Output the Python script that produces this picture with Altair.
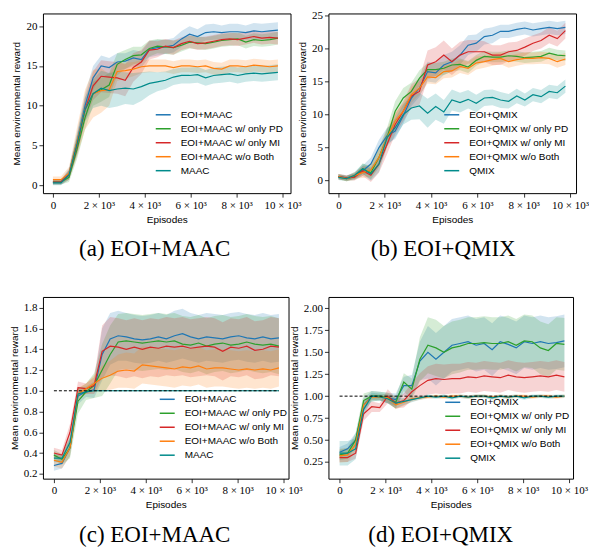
import altair as alt
import pandas as pd

EPISODES = [0, 350, 700, 1050, 1400, 1750, 2100, 2450, 2800, 3150, 3500, 3850, 4200, 4550,
            4900, 5250, 5600, 5950, 6300, 6650, 7000, 7350, 7700, 8050, 8400, 8750, 9100, 9450, 9800]

SERIES_MAAC = ["EOI+MAAC", "EOI+MAAC w/ only PD", "EOI+MAAC w/ only MI", "EOI+MAAC w/o Both", "MAAC"]
SERIES_QMIX = ["EOI+QMIX", "EOI+QMIX w/ only PD", "EOI+QMIX w/ only MI", "EOI+QMIX w/o Both", "QMIX"]
COLORS = ["#1f77b4", "#2ca02c", "#d62728", "#ff7f0e", "#008b8b"]

X_TICKS = [0, 2000, 4000, 6000, 8000, 10000]
BASELINE_LEVEL = [1.0]

# ---------------- (a) EOI+MAAC ----------------
A_EOI = [0.4, 0.4, 1.5, 5.5, 10.0, 13.5, 15.0, 14.8, 15.5, 15.6, 16.0, 15.8, 17.1, 17.3, 17.4, 17.6, 18.4, 19.0, 18.7, 19.2, 19.3, 19.2, 19.3, 19.3, 19.2, 19.4, 19.3, 19.4, 19.5]
A_PD = [0.4, 0.4, 1.0, 4.5, 8.5, 11.5, 12.0, 12.6, 15.2, 15.8, 16.3, 16.4, 17.2, 17.5, 17.4, 17.3, 17.6, 18.0, 17.9, 17.8, 18.0, 18.2, 18.3, 18.4, 18.0, 18.3, 18.2, 18.3, 18.5]
A_MI = [0.4, 0.4, 1.3, 5.0, 9.5, 12.5, 13.7, 13.6, 13.5, 13.2, 14.8, 15.5, 17.0, 17.1, 17.5, 17.3, 17.8, 18.1, 17.8, 17.9, 18.1, 18.3, 18.4, 18.3, 18.5, 18.7, 18.5, 18.6, 18.5]
A_WO = [0.7, 0.7, 1.5, 5.5, 9.5, 11.5, 11.9, 12.0, 14.3, 14.4, 14.6, 14.9, 15.0, 15.0, 15.0, 14.8, 15.0, 15.0, 14.9, 15.0, 14.7, 14.6, 15.0, 15.0, 14.9, 15.1, 15.0, 14.9, 15.0]
A_BASE = [0.3, 0.3, 1.3, 5.2, 9.5, 11.5, 12.2, 11.9, 12.1, 12.2, 12.1, 12.4, 12.8, 13.0, 13.2, 13.6, 13.8, 13.8, 13.9, 13.5, 13.8, 13.9, 14.0, 13.8, 14.0, 14.1, 14.0, 14.1, 14.2]
A_EOI_SD = [0.3, 0.3, 0.6, 1.2, 1.5, 1.5, 1.3, 1.2, 1.1, 1.0, 1.0, 1.0, 1.0, 1.0, 0.9, 0.9, 1.0, 1.0, 0.9, 1.0, 1.0, 0.9, 1.0, 1.0, 0.9, 1.0, 1.0, 1.0, 1.0]
A_PD_SD = [0.3, 0.3, 0.6, 1.2, 1.5, 1.5, 1.5, 1.5, 1.4, 1.2, 1.1, 1.0, 1.0, 0.9, 0.9, 0.9, 0.8, 0.8, 0.8, 0.8, 0.8, 0.8, 0.8, 0.8, 0.8, 0.8, 0.8, 0.8, 0.8]
A_MI_SD = [0.3, 0.3, 0.6, 1.2, 1.5, 1.8, 2.0, 2.0, 2.0, 2.0, 1.8, 1.5, 1.2, 1.0, 0.9, 0.9, 0.8, 0.8, 0.8, 0.8, 0.8, 0.8, 0.8, 0.8, 0.8, 0.8, 0.8, 0.8, 0.8]
A_WO_SD = [0.4, 0.4, 0.8, 1.8, 2.5, 3.0, 2.8, 2.0, 1.2, 1.0, 0.9, 0.8, 0.8, 0.8, 0.8, 0.8, 0.8, 0.8, 0.8, 0.8, 0.8, 0.8, 0.8, 0.8, 0.8, 0.8, 0.8, 0.8, 0.8]
A_BASE_SD = [0.3, 0.3, 0.6, 1.2, 1.5, 1.8, 2.2, 2.2, 2.2, 2.0, 2.0, 1.8, 1.5, 1.2, 1.1, 1.0, 1.0, 1.0, 1.0, 1.0, 1.0, 1.0, 1.0, 1.0, 1.0, 1.0, 1.0, 1.0, 1.0]

# ---------------- (b) EOI+QMIX ----------------
B_EOI = [0.6, 0.4, 0.7, 1.5, 2.5, 5.0, 6.8, 7.5, 9.8, 12.5, 14.0, 16.5, 16.3, 17.5, 18.0, 19.0, 20.5, 20.8, 21.8, 22.0, 22.6, 22.6, 22.9, 23.1, 22.8, 23.0, 23.2, 23.0, 23.2]
B_PD = [0.6, 0.3, 0.6, 1.8, 1.2, 3.5, 6.5, 10.5, 12.5, 13.5, 15.5, 16.8, 16.8, 17.0, 17.5, 17.6, 17.2, 18.2, 18.8, 18.7, 18.7, 18.9, 18.8, 18.6, 18.7, 18.8, 19.3, 19.0, 18.9]
B_MI = [0.6, 0.4, 0.5, 1.5, 0.8, 2.5, 5.5, 8.5, 10.5, 12.8, 13.5, 17.5, 18.0, 19.0, 18.0, 19.0, 19.5, 19.5, 19.5, 19.0, 19.0, 19.5, 19.7, 20.2, 20.8, 21.2, 22.0, 21.5, 22.7]
B_WO = [0.6, 0.3, 0.8, 1.2, 1.6, 3.5, 6.5, 9.0, 10.5, 13.0, 14.0, 15.7, 15.6, 16.5, 16.6, 17.3, 17.0, 17.8, 18.0, 18.3, 18.5, 18.0, 18.3, 18.5, 18.5, 18.6, 18.5, 18.0, 18.4]
B_BASE = [0.5, 0.3, 0.8, 1.8, 1.0, 2.5, 6.5, 8.0, 10.0, 11.0, 11.3, 10.2, 11.2, 10.4, 12.2, 11.8, 12.3, 11.7, 12.5, 12.6, 12.2, 12.0, 12.8, 12.2, 13.0, 12.7, 13.5, 13.3, 14.3]
B_EOI_SD = [0.4, 0.4, 0.5, 0.8, 1.0, 1.2, 1.2, 1.2, 1.2, 1.2, 1.3, 1.5, 1.5, 1.5, 1.5, 1.5, 1.5, 1.3, 1.2, 1.2, 1.0, 1.0, 1.0, 1.0, 1.0, 1.0, 1.0, 1.0, 1.0]
B_PD_SD = [0.4, 0.4, 0.5, 0.8, 1.0, 1.5, 1.5, 1.5, 1.5, 1.3, 1.2, 1.0, 1.0, 1.0, 1.0, 0.9, 0.9, 0.8, 0.8, 0.8, 0.8, 0.8, 0.8, 0.8, 0.8, 0.8, 0.8, 0.8, 0.8]
B_MI_SD = [0.4, 0.4, 0.5, 0.8, 1.0, 1.3, 1.5, 1.5, 1.5, 1.8, 2.0, 2.2, 2.2, 2.2, 2.0, 2.0, 1.8, 1.8, 1.6, 1.5, 1.5, 1.4, 1.3, 1.3, 1.2, 1.2, 1.2, 1.2, 1.2]
B_WO_SD = [0.4, 0.4, 0.5, 0.8, 1.0, 1.3, 1.3, 1.3, 1.2, 1.2, 1.0, 1.0, 1.0, 1.0, 1.0, 1.0, 1.0, 1.0, 0.9, 0.9, 0.9, 0.9, 0.9, 0.9, 0.9, 0.9, 0.9, 0.9, 0.9]
B_BASE_SD = [0.4, 0.4, 0.5, 0.8, 1.0, 1.2, 1.3, 1.4, 1.5, 1.8, 2.0, 2.2, 2.0, 1.8, 1.6, 1.5, 1.4, 1.3, 1.2, 1.2, 1.2, 1.1, 1.1, 1.0, 1.0, 1.0, 1.0, 1.0, 1.0]

# ---------------- (c) EOI+MAAC ----------------
C_EOI = [0.28, 0.30, 0.45, 0.95, 0.99, 1.01, 1.35, 1.50, 1.53, 1.52, 1.50, 1.49, 1.50, 1.52, 1.50, 1.53, 1.55, 1.52, 1.50, 1.52, 1.51, 1.50, 1.52, 1.53, 1.51, 1.50, 1.52, 1.50, 1.51]
C_PD = [0.38, 0.34, 0.45, 0.90, 0.99, 1.05, 1.20, 1.35, 1.47, 1.48, 1.47, 1.46, 1.47, 1.48, 1.47, 1.48, 1.45, 1.44, 1.46, 1.43, 1.45, 1.46, 1.44, 1.45, 1.47, 1.45, 1.44, 1.45, 1.43]
C_MI = [0.40, 0.38, 0.60, 1.03, 1.02, 1.05, 1.38, 1.43, 1.42, 1.40, 1.42, 1.40, 1.42, 1.41, 1.43, 1.42, 1.43, 1.41, 1.42, 1.43, 1.42, 1.38, 1.42, 1.41, 1.43, 1.39, 1.40, 1.43, 1.42]
C_WO = [0.33, 0.31, 0.45, 0.97, 1.02, 1.07, 1.12, 1.15, 1.19, 1.20, 1.19, 1.25, 1.24, 1.23, 1.22, 1.21, 1.23, 1.22, 1.24, 1.21, 1.22, 1.22, 1.21, 1.20, 1.21, 1.20, 1.21, 1.20, 1.22]
C_BASE = [0.35, 0.35, 0.50, 0.97, 0.99, 1.00, 1.00, 1.00, 1.00, 1.00, 1.00, 1.00, 1.00, 1.00, 1.00, 1.00, 1.00, 1.00, 1.00, 1.00, 1.00, 1.00, 1.00, 1.00, 1.00, 1.00, 1.00, 1.00, 1.00]
C_EOI_SD = [0.05, 0.05, 0.08, 0.08, 0.05, 0.08, 0.25, 0.25, 0.24, 0.23, 0.23, 0.23, 0.23, 0.23, 0.23, 0.24, 0.24, 0.23, 0.23, 0.23, 0.23, 0.23, 0.23, 0.23, 0.23, 0.23, 0.23, 0.23, 0.23]
C_PD_SD = [0.05, 0.05, 0.10, 0.12, 0.08, 0.12, 0.25, 0.28, 0.27, 0.27, 0.27, 0.27, 0.27, 0.27, 0.27, 0.27, 0.27, 0.27, 0.27, 0.27, 0.27, 0.27, 0.27, 0.27, 0.27, 0.27, 0.27, 0.27, 0.27]
C_MI_SD = [0.05, 0.05, 0.08, 0.06, 0.05, 0.08, 0.25, 0.28, 0.28, 0.28, 0.28, 0.28, 0.28, 0.28, 0.28, 0.28, 0.28, 0.28, 0.28, 0.28, 0.28, 0.28, 0.28, 0.28, 0.28, 0.28, 0.28, 0.28, 0.28]
C_WO_SD = [0.06, 0.06, 0.08, 0.06, 0.05, 0.08, 0.12, 0.14, 0.16, 0.17, 0.17, 0.18, 0.18, 0.18, 0.18, 0.18, 0.18, 0.18, 0.18, 0.18, 0.18, 0.18, 0.18, 0.18, 0.18, 0.18, 0.18, 0.18, 0.18]
C_BASE_SD = [0.04, 0.04, 0.06, 0.03, 0.01, 0.005, 0.005, 0.005, 0.005, 0.005, 0.005, 0.005, 0.005, 0.005, 0.005, 0.005, 0.005, 0.005, 0.005, 0.005, 0.005, 0.005, 0.005, 0.005, 0.005, 0.005, 0.005, 0.005, 0.005]

# ---------------- (d) EOI+QMIX ----------------
D_EOI = [0.36, 0.40, 0.50, 0.90, 1.00, 1.00, 0.98, 0.96, 1.12, 1.12, 1.40, 1.50, 1.42, 1.50, 1.58, 1.60, 1.62, 1.58, 1.60, 1.53, 1.62, 1.59, 1.55, 1.62, 1.60, 1.62, 1.60, 1.61, 1.63]
D_PD = [0.33, 0.35, 0.50, 0.95, 1.00, 1.00, 0.98, 0.93, 1.16, 1.08, 1.42, 1.58, 1.55, 1.50, 1.55, 1.57, 1.60, 1.60, 1.61, 1.60, 1.60, 1.62, 1.58, 1.63, 1.62, 1.55, 1.52, 1.60, 1.59]
D_MI = [0.30, 0.30, 0.35, 0.80, 0.88, 0.87, 1.00, 0.92, 0.95, 1.05, 1.12, 1.18, 1.20, 1.19, 1.20, 1.20, 1.22, 1.21, 1.23, 1.22, 1.21, 1.24, 1.22, 1.21, 1.22, 1.23, 1.22, 1.24, 1.22]
D_WO = [0.32, 0.33, 0.45, 0.90, 0.99, 0.99, 0.98, 0.90, 0.93, 0.97, 0.98, 0.99, 1.00, 0.99, 1.00, 1.00, 0.99, 1.00, 1.00, 0.99, 1.00, 0.99, 1.00, 1.00, 0.99, 1.00, 1.00, 0.99, 1.00]
D_BASE = [0.35, 0.35, 0.40, 0.85, 1.00, 0.99, 0.97, 0.92, 0.94, 0.96, 0.98, 1.00, 0.99, 1.00, 0.98, 1.00, 0.99, 1.00, 1.00, 0.98, 1.00, 0.99, 1.00, 0.98, 1.00, 1.00, 0.99, 1.00, 1.00]
D_EOI_SD = [0.06, 0.06, 0.08, 0.08, 0.06, 0.05, 0.06, 0.07, 0.10, 0.12, 0.22, 0.30, 0.30, 0.30, 0.30, 0.30, 0.30, 0.30, 0.30, 0.30, 0.30, 0.30, 0.30, 0.30, 0.30, 0.30, 0.30, 0.30, 0.30]
D_PD_SD = [0.06, 0.06, 0.08, 0.08, 0.06, 0.05, 0.06, 0.07, 0.10, 0.12, 0.25, 0.32, 0.32, 0.30, 0.30, 0.30, 0.30, 0.30, 0.30, 0.30, 0.30, 0.30, 0.30, 0.30, 0.30, 0.30, 0.30, 0.30, 0.30]
D_MI_SD = [0.05, 0.05, 0.06, 0.08, 0.06, 0.05, 0.08, 0.06, 0.08, 0.10, 0.14, 0.16, 0.17, 0.17, 0.17, 0.17, 0.17, 0.17, 0.17, 0.17, 0.17, 0.17, 0.17, 0.17, 0.17, 0.17, 0.17, 0.17, 0.17]
D_WO_SD = [0.08, 0.08, 0.08, 0.06, 0.03, 0.03, 0.04, 0.05, 0.04, 0.03, 0.02, 0.02, 0.02, 0.02, 0.02, 0.02, 0.02, 0.02, 0.02, 0.02, 0.02, 0.02, 0.02, 0.02, 0.02, 0.02, 0.02, 0.02, 0.02]
D_BASE_SD = [0.14, 0.14, 0.12, 0.08, 0.04, 0.04, 0.05, 0.06, 0.04, 0.03, 0.02, 0.02, 0.02, 0.02, 0.02, 0.02, 0.02, 0.02, 0.02, 0.02, 0.02, 0.02, 0.02, 0.02, 0.02, 0.02, 0.02, 0.02, 0.02]

X_LABEL_EXPR = "datum.value == 0 ? '0' : format(datum.value / 1000, 'd') + ' \u00d7 10\u00b3'"

AXIS_STYLE = dict(grid=False, domain=False, tickColor="black", tickSize=4, tickWidth=0.8,
                  labelFont="Liberation Serif", labelFontSize=11, labelColor="black",
                  labelPadding=2, titleFont="Liberation Sans", titleFontSize=10,
                  titleFontWeight="normal", titleColor="black", titlePadding=4,
                  labelOverlap=False)


def build_frame(series, means, sds):
    rows = []
    for name, m, s in zip(series, means, sds):
        for e, v, d in zip(EPISODES, m, s):
            rows.append({"episode": e, "mean": v, "lo": v - d, "hi": v + d, "series": name})
    return pd.DataFrame(rows)


def panel(series, means, sds, xdom, ydom, yvals, yfmt, w, h, legx, legy, caption, dx,
          rule=False):
    df = build_frame(series, means, sds)
    xaxis = alt.Axis(values=X_TICKS, labelExpr=X_LABEL_EXPR, title="Episodes", **AXIS_STYLE)
    yaxis = alt.Axis(values=yvals, format=yfmt, title="Mean environmental reward", **AXIS_STYLE)
    xs = alt.Scale(domain=xdom, nice=False, zero=False)
    ys = alt.Scale(domain=ydom, nice=False, zero=False)
    legend = alt.Legend(orient="none", legendX=legx, legendY=legy, title=None,
                        symbolType="stroke", symbolSize=225, symbolStrokeWidth=1.5,
                        labelOffset=9, rowPadding=0, padding=0,
                        labelFont="Liberation Sans", labelFontSize=10, labelColor="black")
    base = alt.Chart(df)
    layers = []
    for name, col in zip(series, COLORS):
        layers.append(
            base.transform_filter(alt.datum.series == name)
            .mark_area(color=col, opacity=0.2, clip=True)
            .encode(x=alt.X("episode:Q", scale=xs, axis=xaxis),
                    y=alt.Y("lo:Q", scale=ys, axis=yaxis),
                    y2="hi:Q")
        )
    line = base.mark_line(strokeWidth=1.2, clip=True).encode(
        x=alt.X("episode:Q", scale=xs, axis=xaxis),
        y=alt.Y("mean:Q", scale=ys, axis=yaxis),
        color=alt.Color("series:N", scale=alt.Scale(domain=series, range=COLORS),
                        legend=legend),
    )
    layers.append(line)
    if rule:
        rdf = pd.DataFrame({"x0": [EPISODES[0]], "x1": [EPISODES[-1]], "y": BASELINE_LEVEL})
        layers.append(alt.Chart(rdf).mark_rule(color="black", strokeDash=[3, 2],
                                               strokeWidth=1).encode(
            x=alt.X("x0:Q", scale=xs, axis=xaxis), x2="x1:Q",
            y=alt.Y("y:Q", scale=ys, axis=yaxis)))
    return alt.layer(*layers).properties(
        width=w, height=h,
        view=alt.ViewBackground(stroke="black", strokeWidth=1),
        title=alt.TitleParams(caption, orient="bottom", frame="group", anchor="middle",
                              dx=dx, offset=14, font="Liberation Serif", fontSize=23,
                              fontWeight="normal", color="black"),
    )


pa = panel(SERIES_MAAC, [A_EOI, A_PD, A_MI, A_WO, A_BASE],
           [A_EOI_SD, A_PD_SD, A_MI_SD, A_WO_SD, A_BASE_SD],
           [-435, 10348], [-1.0, 21.6], [0, 5, 10, 15, 20], "d", 248, 180, 112, 93,
           "(a) EOI+MAAC", -12)
pb = panel(SERIES_QMIX, [B_EOI, B_PD, B_MI, B_WO, B_BASE],
           [B_EOI_SD, B_PD_SD, B_MI_SD, B_WO_SD, B_BASE_SD],
           [-431, 10259], [-1.9, 25.3], [0, 5, 10, 15, 20, 25], "d", 248, 180, 115, 93,
           "(b) EOI+QMIX", -9)
pc = panel(SERIES_MAAC, [C_EOI, C_PD, C_MI, C_WO, C_BASE],
           [C_EOI_SD, C_PD_SD, C_MI_SD, C_WO_SD, C_BASE_SD],
           [-478, 10217], [0.153, 1.904], [0.2, 0.4, 0.6, 0.8, 1.0, 1.2, 1.4, 1.6, 1.8], ".1f",
           246, 182, 116, 94, "(c) EOI+MAAC", -11, rule=True)
pdd = panel(SERIES_QMIX, [D_EOI, D_PD, D_MI, D_WO, D_BASE],
            [D_EOI_SD, D_PD_SD, D_MI_SD, D_WO_SD, D_BASE_SD],
            [-485, 10176], [0.06, 2.13], [0.25, 0.5, 0.75, 1.0, 1.25, 1.5, 1.75, 2.0], ".2f",
            245, 182, 116, 97, "(d) EOI+QMIX", -10, rule=True)

chart = alt.concat(pa, pb, pc, pdd, columns=2, spacing={"row": 104, "column": 38},
                   bounds="flush")
chart = chart.resolve_scale(color="independent") \
    .resolve_legend(color="independent") \
    .properties(padding={"left": 0, "top": 0, "right": 0, "bottom": 0})

chart.save("out.html", embed_options={"renderer": "svg", "actions": False})
